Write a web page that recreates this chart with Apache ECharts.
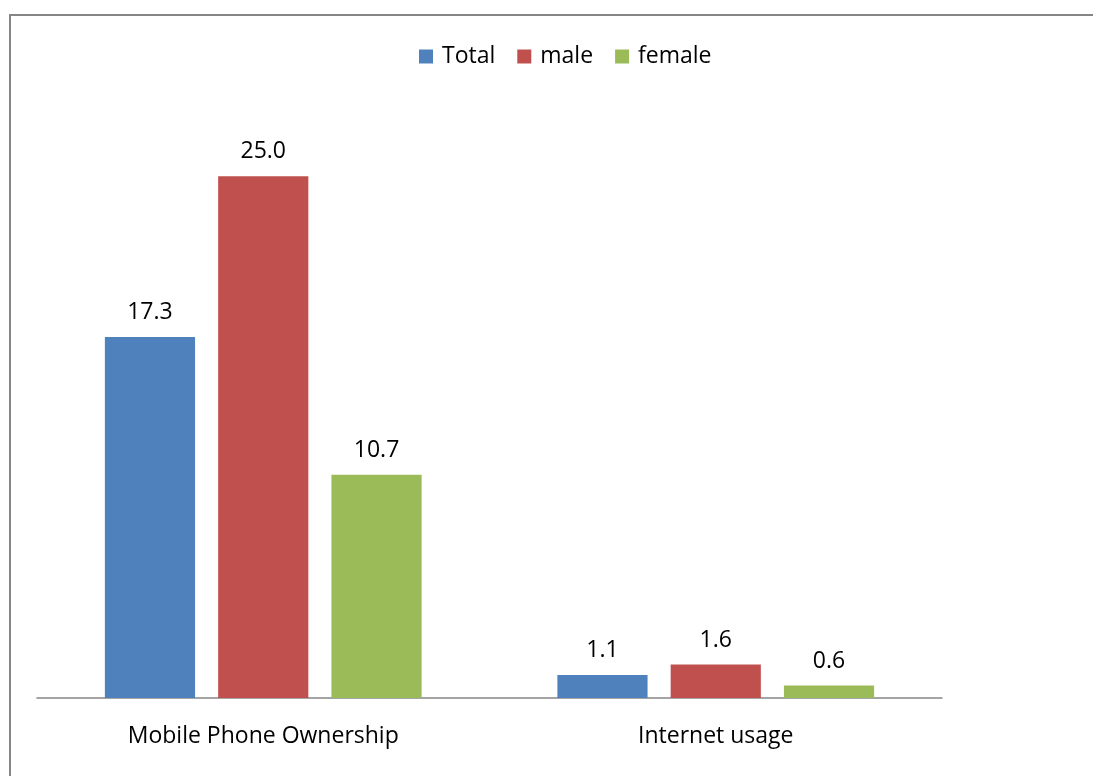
<!DOCTYPE html>
<html>
<head>
<meta charset="utf-8">
<script src="https://cdn.jsdelivr.net/npm/echarts@6/dist/echarts.min.js"></script>
<style>
  html, body { margin: 0; padding: 0; background: #ffffff; }
  #chart { width: 1093px; height: 776px; }
</style>
</head>
<body>
<div id="chart"></div>
<script>
// Mobile phone ownership and internet usage by sex (%)
const categories = ['Mobile Phone Ownership', 'Internet usage'];
const totalValues = [17.3, 1.1];
const maleValues = [25.0, 1.6];
const femaleValues = [10.7, 0.6];
const seriesNames = ['Total', 'male', 'female'];
const seriesColors = ['#4f81bd', '#c0504d', '#9bbb59'];

const FONT = '"Open Sans", "Liberation Sans", sans-serif';
const chart = echarts.init(document.getElementById('chart'), null, { renderer: 'canvas' });

const valueSets = [totalValues, maleValues, femaleValues];
const series = valueSets.map((vals, i) => ({
  name: seriesNames[i],
  type: 'bar',
  data: vals,
  barGap: '25.6%',
  barCategoryGap: '30%',
  itemStyle: { color: seriesColors[i] },
  label: {
    show: true,
    position: 'top',
    distance: 13,
    color: '#000000',
    fontFamily: FONT,
    fontSize: 23,
    formatter: p => p.value.toFixed(1)
  },
  emphasis: { disabled: true }
}));

chart.setOption({
  animation: false,
  backgroundColor: '#ffffff',
  graphic: [{
    type: 'rect',
    shape: { x: 10, y: 15, width: 1120, height: 820 },
    style: { fill: 'none', stroke: '#868686', lineWidth: 2 },
    silent: true
  }],
  legend: {
    data: seriesNames,
    top: 40,
    left: 414,
    itemWidth: 14,
    itemHeight: 14,
    itemGap: 22,
    icon: 'rect',
    textStyle: { fontFamily: FONT, fontSize: 23, color: '#000000', padding: [0, 0, 0, 4] }
  },
  grid: { left: 37, right: 151, top: 72, bottom: 78, containLabel: false },
  xAxis: {
    type: 'category',
    data: categories,
    axisLine: { show: true, lineStyle: { color: '#868686', width: 1.5 } },
    axisTick: { show: false },
    axisLabel: { fontFamily: FONT, fontSize: 23, color: '#000000', margin: 27 }
  },
  yAxis: {
    type: 'value',
    min: 0,
    max: 30,
    interval: 5,
    show: false,
    splitLine: { show: false }
  },
  series: series
});
</script>
</body>
</html>
